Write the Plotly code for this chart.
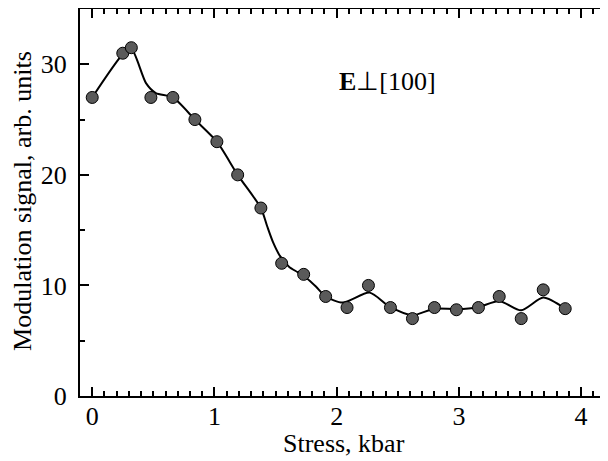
import plotly.graph_objects as go

# measured points
stress = [0.0, 0.25, 0.32, 0.48, 0.66, 0.84, 1.02, 1.19, 1.38, 1.55, 1.73,
          1.91, 2.085, 2.26, 2.44, 2.62, 2.80, 2.98, 3.16, 3.33, 3.51, 3.69, 3.87]
signal = [27.0, 31.0, 31.5, 27.0, 27.0, 25.0, 23.0, 20.0, 17.0, 12.0, 11.0,
          9.0, 8.0, 10.0, 8.0, 7.0, 8.0, 7.8, 8.0, 9.0, 7.0, 9.6, 7.9]

# smooth guide curve
fit_x = [0.0, 0.25, 0.32, 0.44, 0.52, 0.66, 0.84, 1.02, 1.19, 1.38, 1.43, 1.48,
         1.54, 1.61, 1.68, 1.75, 1.83, 1.91, 2.05, 2.27, 2.43, 2.62, 2.80, 2.98,
         3.15, 3.33, 3.51, 3.69, 3.87]
fit_y = [27.0, 30.9, 31.4, 28.3, 27.4, 27.0, 25.0, 23.0, 20.0, 17.0, 15.4, 13.9,
         12.6, 11.7, 11.2, 10.7, 9.9, 9.0, 8.45, 9.35, 8.1, 7.3, 7.9, 7.85,
         8.0, 8.6, 7.75, 8.9, 7.9]

x_ticks = [0, 1, 2, 3, 4]
y_ticks = [0, 10, 20, 30]

FONT = "Liberation Serif, Times New Roman, serif"
SIZE = 26

fig = go.Figure()
fig.add_trace(go.Scatter(
    x=fit_x, y=fit_y, mode="lines",
    line=dict(color="black", width=2, shape="spline", smoothing=0.7),
    showlegend=False, hoverinfo="skip"))
fig.add_trace(go.Scatter(
    x=stress, y=signal, mode="markers",
    marker=dict(size=12, color="#5a5a5a", line=dict(color="black", width=1)),
    showlegend=False))

# invisible anchor for the right-hand tick column
fig.add_trace(go.Scatter(x=[None], y=[None], yaxis="y2", showlegend=False))

fig.add_annotation(
    x=0.486, y=0.813, xref="paper", yref="paper", xanchor="left", yanchor="middle",
    text="<b>E</b>\u22a5[100]", showarrow=False,
    font=dict(family=FONT, size=SIZE, color="black"))

# axis titles as annotations so they sit where the reference has them
fig.add_annotation(
    x=0.5, y=-0.124, xref="paper", yref="paper", xanchor="center", yanchor="middle",
    text="Stress, kbar", showarrow=False, font=dict(family=FONT, size=SIZE, color="black"))
fig.add_annotation(
    x=-0.108, y=0.504, xref="paper", yref="paper", xanchor="center", yanchor="middle",
    text="Modulation signal, arb. units", textangle=-90, showarrow=False,
    font=dict(family=FONT, size=SIZE, color="black"))

# page body adds an 8px offset, so the figure is 8px smaller than the window
fig.update_layout(
    width=600, height=453,
    margin=dict(l=72, r=0, t=1, b=65),
    plot_bgcolor="white", paper_bgcolor="white",
    font=dict(family=FONT, size=SIZE, color="black"),
    xaxis=dict(
        range=[-0.1, 4.22], tickvals=x_ticks, automargin=False,
        showline=True, linecolor="black", linewidth=2, mirror="ticks",
        ticks="inside", ticklen=9, tickwidth=1.5, tickcolor="black",
        ticklabelstandoff=-4,
        minor=dict(dtick=0.1, ticks="inside", ticklen=5, tickwidth=1.5, tickcolor="black"),
        showgrid=False, zeroline=False),
    yaxis=dict(
        range=[0, 35], tickvals=y_ticks, automargin=False,
        showline=True, linecolor="black", linewidth=2,
        ticks="inside", ticklen=9, tickwidth=1.5, tickcolor="black",
        ticklabelstandoff=6,
        minor=dict(tickvals=[5, 15, 25], ticks="inside", ticklen=5, tickwidth=1.5, tickcolor="black"),
        showgrid=False, zeroline=False),
    yaxis2=dict(
        range=[0, 35], overlaying="y", side="right", tickvals=y_ticks,
        showline=False, showticklabels=False, automargin=False,
        ticks="inside", ticklen=8, tickwidth=1.5, tickcolor="black",
        minor=dict(tickvals=[5, 15, 25], ticks="inside", ticklen=4, tickwidth=1.5, tickcolor="black"),
        showgrid=False, zeroline=False),
)

fig.write_html("out.html")
